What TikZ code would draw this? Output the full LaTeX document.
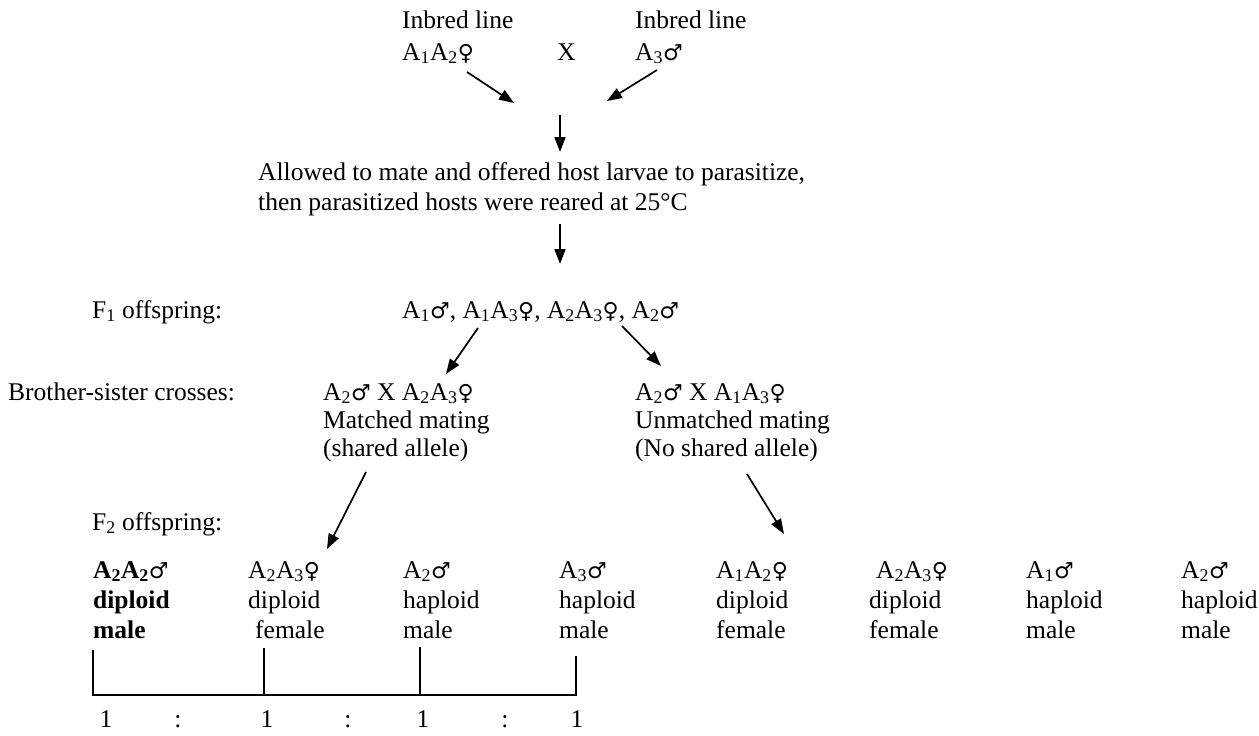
\documentclass[tikz,border=0pt]{standalone}
\usepackage{fontspec}
\setmainfont{Liberation Serif}
\newfontfamily\symfont{DejaVu Sans}
\usetikzlibrary{arrows.meta}
\newcommand\fem{{\symfont\fontsize{22}{29}\selectfont\char"2640}}
\newcommand\mal{{\symfont\fontsize{22}{29}\selectfont\char"2642}}
\newcommand\Al[1]{A\textsubscript{#1}}
\begin{document}
\begin{tikzpicture}[x=1pt,y=-1pt,
  font=\fontsize{25.5}{29}\selectfont,
  txt/.style={inner sep=0pt, anchor=base west},
  arr/.style={-{Triangle[length=15pt,width=11pt]}, line width=1.7pt},
  brk/.style={line width=1.3pt}]
\useasboundingbox (0,0) rectangle (1259,736);

% parents
\node[txt] (pl1) at (402,28) {Inbred line};
\node[txt] (pl2) at (402,60) {\Al1\Al2\fem};
\node[txt] (px)  at (557,60) {X};
\node[txt] (pr1) at (635,28) {Inbred line};
\node[txt] (pr2) at (635,60) {\Al3\mal};

\coordinate (a1s) at (467,72);  \coordinate (a1e) at (514,103);
\coordinate (a2s) at (657,70);  \coordinate (a2e) at (607,101);
\draw[arr] (a1s) -- (a1e);
\draw[arr] (a2s) -- (a2e);

\coordinate (a3s) at (560,115); \coordinate (a3e) at (560,152);
\draw[arr] (a3s) -- (a3e);

% mating
\node[txt] (m1) at (258,180) {Allowed to mate and offered host larvae to parasitize,};
\node[txt] (m2) at (258,210) {then parasitized hosts were reared at 25\textdegree C};

\coordinate (a4s) at (560,224); \coordinate (a4e) at (560,264);
\draw[arr] (a4s) -- (a4e);

% F1
\node[txt] (f1l) at (92,318) {F\textsubscript{1} offspring:};
\node[txt] (f1)  at (402,318) {\Al1\mal, \Al1\Al3\fem, \Al2\Al3\fem, \Al2\mal};

\coordinate (a5s) at (478,328); \coordinate (a5e) at (446,374);
\coordinate (a6s) at (622,326); \coordinate (a6e) at (661,366);
\draw[arr] (a5s) -- (a5e);
\draw[arr] (a6s) -- (a6e);

% crosses
\node[txt] (bs) at (8,400) {Brother-sister crosses:};
\node[txt] (cl1) at (323,400) {\Al2\mal{} X \Al2\Al3\fem};
\node[txt] (cl2) at (323,428) {Matched mating};
\node[txt] (cl3) at (323,456) {(shared allele)};
\node[txt] (cr1) at (635,400) {\Al2\mal{} X \Al1\Al3\fem};
\node[txt] (cr2) at (635,428) {Unmatched mating};
\node[txt] (cr3) at (635,456) {(No shared allele)};

\coordinate (a7s) at (366,472); \coordinate (a7e) at (327,549);
\coordinate (a8s) at (747,474); \coordinate (a8e) at (784,534);
\draw[arr] (a7s) -- (a7e);
\draw[arr] (a8s) -- (a8e);

% F2
\node[txt] (f2l) at (92,530) {F\textsubscript{2} offspring:};

\node[txt] (o1a) at (93,578) {\textbf{\Al2\Al2}\mal};
\node[txt] (o1b) at (93,608) {\textbf{diploid}};
\node[txt] (o1c) at (93,638) {\textbf{male}};
\node[txt] (o2a) at (248,578) {\Al2\Al3\fem};
\node[txt] (o2b) at (248,608) {diploid};
\node[txt] (o2c) at (255,638) {female};
\node[txt] (o3a) at (403,578) {\Al2\mal};
\node[txt] (o3b) at (403,608) {haploid};
\node[txt] (o3c) at (403,638) {male};
\node[txt] (o4a) at (559,578) {\Al3\mal};
\node[txt] (o4b) at (559,608) {haploid};
\node[txt] (o4c) at (559,638) {male};
\node[txt] (o5a) at (716,578) {\Al1\Al2\fem};
\node[txt] (o5b) at (716,608) {diploid};
\node[txt] (o5c) at (716,638) {female};
\node[txt] (o6a) at (876,578) {\Al2\Al3\fem};
\node[txt] (o6b) at (869,608) {diploid};
\node[txt] (o6c) at (869,638) {female};
\node[txt] (o7a) at (1026,578) {\Al1\mal};
\node[txt] (o7b) at (1026,608) {haploid};
\node[txt] (o7c) at (1026,638) {male};
\node[txt] (o8a) at (1181,578) {\Al2\mal};
\node[txt] (o8b) at (1181,608) {haploid};
\node[txt] (o8c) at (1181,638) {male};

% bracket
\coordinate (b1) at (93,650);  \coordinate (b1b) at (93,695);
\coordinate (b2) at (264,648); \coordinate (b2b) at (264,695);
\coordinate (b3) at (420,647); \coordinate (b3b) at (420,695);
\coordinate (b4) at (576,656); \coordinate (b4b) at (576,695);
\draw[brk] (b1) -- (b1b) -- (b4b) -- (b4);
\draw[brk] (b2) -- (b2b);
\draw[brk] (b3) -- (b3b);

% ratio
\node[txt, anchor=base] (r1) at (106,727) {1};
\node[txt, anchor=base] (r2) at (178,727) {:};
\node[txt, anchor=base] (r3) at (267,727) {1};
\node[txt, anchor=base] (r4) at (348,727) {:};
\node[txt, anchor=base] (r5) at (423,727) {1};
\node[txt, anchor=base] (r6) at (505,727) {:};
\node[txt, anchor=base] (r7) at (577,727) {1};
\end{tikzpicture}
\end{document}
